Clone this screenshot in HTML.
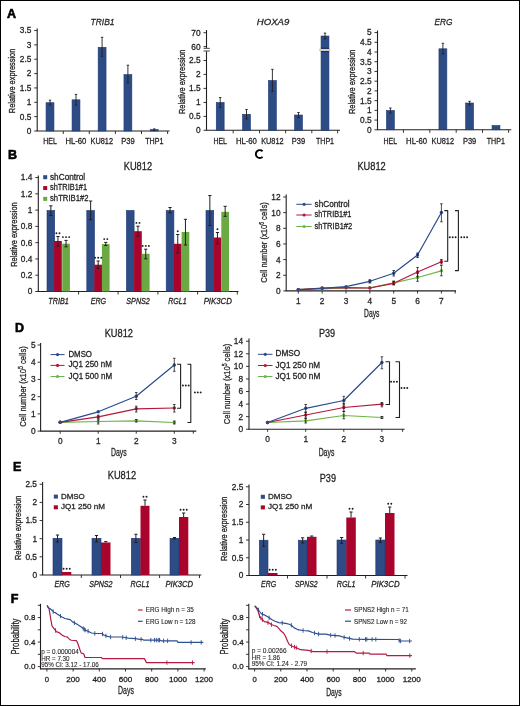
<!DOCTYPE html>
<html><head><meta charset="utf-8"><style>
html,body{margin:0;padding:0;background:#fff;}
body{width:520px;height:706px;overflow:hidden;}
#fig{position:absolute;left:0;top:0;width:518px;height:704px;border:1px solid #000;background:#fff;}
svg{position:absolute;left:-1px;top:-1px;will-change:transform;}
svg{fill:#231f20;} text{font-family:"Liberation Sans",sans-serif;stroke:#231f20;stroke-width:0.28px;}
</style></head><body><div id="fig">
<svg width="520" height="706" viewBox="0 0 520 706">
<text x="6.9" y="17.8" font-size="12.5" font-weight="bold" fill="#000" style="stroke:#000;stroke-width:0.6px">A</text>
<text x="8.1" y="158.8" font-size="12.5" font-weight="bold" fill="#000" style="stroke:#000;stroke-width:0.6px">B</text>
<path d="M262.59,151.26 A3.95,3.95 0 1 0 262.59,156.84" fill="none" stroke="#000" stroke-width="1.9"/>
<text x="15" y="332.3" font-size="12.5" font-weight="bold" fill="#000" style="stroke:#000;stroke-width:0.6px">D</text>
<text x="12.9" y="470.8" font-size="12.5" font-weight="bold" fill="#000" style="stroke:#000;stroke-width:0.6px">E</text>
<text x="10.8" y="603.1" font-size="12.5" font-weight="bold" fill="#000" style="stroke:#000;stroke-width:0.6px">F</text>
<line x1="37.2" y1="28.5" x2="37.2" y2="131" stroke="#231f20" stroke-width="1.1" />
<line x1="34.2" y1="131" x2="37.2" y2="131" stroke="#231f20" stroke-width="0.9" />
<text x="31.4" y="133.9" font-size="8.3" text-anchor="end" >0</text>
<line x1="34.2" y1="116.64" x2="37.2" y2="116.64" stroke="#231f20" stroke-width="0.9" />
<text x="31.4" y="119.55" font-size="8.3" text-anchor="end" >0.5</text>
<line x1="34.2" y1="102.29" x2="37.2" y2="102.29" stroke="#231f20" stroke-width="0.9" />
<text x="31.4" y="105.19" font-size="8.3" text-anchor="end" >1</text>
<line x1="34.2" y1="87.94" x2="37.2" y2="87.94" stroke="#231f20" stroke-width="0.9" />
<text x="31.4" y="90.84" font-size="8.3" text-anchor="end" >1.5</text>
<line x1="34.2" y1="73.58" x2="37.2" y2="73.58" stroke="#231f20" stroke-width="0.9" />
<text x="31.4" y="76.48" font-size="8.3" text-anchor="end" >2</text>
<line x1="34.2" y1="59.22" x2="37.2" y2="59.22" stroke="#231f20" stroke-width="0.9" />
<text x="31.4" y="62.12" font-size="8.3" text-anchor="end" >2.5</text>
<line x1="34.2" y1="44.87" x2="37.2" y2="44.87" stroke="#231f20" stroke-width="0.9" />
<text x="31.4" y="47.77" font-size="8.3" text-anchor="end" >3</text>
<line x1="34.2" y1="30.52" x2="37.2" y2="30.52" stroke="#231f20" stroke-width="0.9" />
<text x="31.4" y="33.41" font-size="8.3" text-anchor="end" >3.5</text>
<line x1="36.7" y1="131" x2="169.5" y2="131" stroke="#231f20" stroke-width="1.1" />
<line x1="63.3" y1="131" x2="63.3" y2="134" stroke="#231f20" stroke-width="0.9" />
<line x1="89.3" y1="131" x2="89.3" y2="134" stroke="#231f20" stroke-width="0.9" />
<line x1="115.4" y1="131" x2="115.4" y2="134" stroke="#231f20" stroke-width="0.9" />
<line x1="141.5" y1="131" x2="141.5" y2="134" stroke="#231f20" stroke-width="0.9" />
<line x1="167.6" y1="131" x2="167.6" y2="134" stroke="#231f20" stroke-width="0.9" />
<rect x="46.05" y="102.7" width="7.9" height="28.3" fill="#2d4b85" stroke="#1f3a72" stroke-width="0.6"/>
<line x1="50" y1="100.2" x2="50" y2="105" stroke="#231f20" stroke-width="0.9" />
<line x1="48.8" y1="100.2" x2="51.2" y2="100.2" stroke="#231f20" stroke-width="0.9" />
<line x1="48.8" y1="105" x2="51.2" y2="105" stroke="#231f20" stroke-width="0.9" />
<rect x="72.05" y="99.8" width="7.9" height="31.2" fill="#2d4b85" stroke="#1f3a72" stroke-width="0.6"/>
<line x1="76" y1="94.4" x2="76" y2="105" stroke="#231f20" stroke-width="0.9" />
<line x1="74.8" y1="94.4" x2="77.2" y2="94.4" stroke="#231f20" stroke-width="0.9" />
<line x1="74.8" y1="105" x2="77.2" y2="105" stroke="#231f20" stroke-width="0.9" />
<rect x="98.15" y="47.3" width="7.9" height="83.7" fill="#2d4b85" stroke="#1f3a72" stroke-width="0.6"/>
<line x1="102.1" y1="37.3" x2="102.1" y2="56.3" stroke="#231f20" stroke-width="0.9" />
<line x1="100.9" y1="37.3" x2="103.3" y2="37.3" stroke="#231f20" stroke-width="0.9" />
<line x1="100.9" y1="56.3" x2="103.3" y2="56.3" stroke="#231f20" stroke-width="0.9" />
<rect x="123.95" y="74.6" width="7.9" height="56.4" fill="#2d4b85" stroke="#1f3a72" stroke-width="0.6"/>
<line x1="127.9" y1="65.2" x2="127.9" y2="82.9" stroke="#231f20" stroke-width="0.9" />
<line x1="126.7" y1="65.2" x2="129.1" y2="65.2" stroke="#231f20" stroke-width="0.9" />
<line x1="126.7" y1="82.9" x2="129.1" y2="82.9" stroke="#231f20" stroke-width="0.9" />
<rect x="150.25" y="129.6" width="7.9" height="1.4" fill="#2d4b85" stroke="#1f3a72" stroke-width="0.6"/>
<line x1="154.2" y1="128.9" x2="154.2" y2="130.3" stroke="#231f20" stroke-width="0.9" />
<line x1="153" y1="128.9" x2="155.4" y2="128.9" stroke="#231f20" stroke-width="0.9" />
<line x1="153" y1="130.3" x2="155.4" y2="130.3" stroke="#231f20" stroke-width="0.9" />
<text x="50" y="144.2" font-size="8.4" text-anchor="middle" textLength="13.6" lengthAdjust="spacingAndGlyphs" >HEL</text>
<text x="75.9" y="144.2" font-size="8.4" text-anchor="middle" textLength="21" lengthAdjust="spacingAndGlyphs" >HL-60</text>
<text x="101.8" y="144.2" font-size="8.4" text-anchor="middle" textLength="22.5" lengthAdjust="spacingAndGlyphs" >KU812</text>
<text x="128" y="144.2" font-size="8.4" text-anchor="middle" textLength="13.4" lengthAdjust="spacingAndGlyphs" >P39</text>
<text x="154.3" y="144.2" font-size="8.4" text-anchor="middle" textLength="18.2" lengthAdjust="spacingAndGlyphs" >THP1</text>
<text x="102.5" y="25" font-size="9.9" text-anchor="middle" font-style="italic" textLength="24" lengthAdjust="spacingAndGlyphs" >TRIB1</text>
<text x="0" y="0" transform="translate(15.3,80.9) rotate(-90)" font-size="9.7" text-anchor="middle" style="stroke-width:0.32px" textLength="64.5" lengthAdjust="spacingAndGlyphs">Relative expression</text>
<line x1="206.5" y1="30" x2="206.5" y2="130.3" stroke="#231f20" stroke-width="1.1" />
<line x1="203.5" y1="130.3" x2="206.5" y2="130.3" stroke="#231f20" stroke-width="0.9" />
<text x="200.6" y="133.2" font-size="8.3" text-anchor="end" >0</text>
<line x1="203.5" y1="116.4" x2="206.5" y2="116.4" stroke="#231f20" stroke-width="0.9" />
<text x="200.6" y="119.3" font-size="8.3" text-anchor="end" >0.5</text>
<line x1="203.5" y1="102.5" x2="206.5" y2="102.5" stroke="#231f20" stroke-width="0.9" />
<text x="200.6" y="105.4" font-size="8.3" text-anchor="end" >1</text>
<line x1="203.5" y1="88.4" x2="206.5" y2="88.4" stroke="#231f20" stroke-width="0.9" />
<text x="200.6" y="91.3" font-size="8.3" text-anchor="end" >1.5</text>
<line x1="203.5" y1="74.4" x2="206.5" y2="74.4" stroke="#231f20" stroke-width="0.9" />
<text x="200.6" y="77.3" font-size="8.3" text-anchor="end" >2</text>
<line x1="203.5" y1="60.5" x2="206.5" y2="60.5" stroke="#231f20" stroke-width="0.9" />
<text x="200.6" y="63.4" font-size="8.3" text-anchor="end" >2.5</text>
<line x1="203.5" y1="46.6" x2="206.5" y2="46.6" stroke="#231f20" stroke-width="0.9" />
<text x="200.6" y="49.5" font-size="8.3" text-anchor="end" >60</text>
<line x1="203.5" y1="32.7" x2="206.5" y2="32.7" stroke="#231f20" stroke-width="0.9" />
<text x="200.6" y="35.6" font-size="8.3" text-anchor="end" >70</text>
<line x1="206" y1="130.3" x2="340" y2="130.3" stroke="#231f20" stroke-width="1.1" />
<line x1="233.2" y1="130.3" x2="233.2" y2="133.3" stroke="#231f20" stroke-width="0.9" />
<line x1="259.5" y1="130.3" x2="259.5" y2="133.3" stroke="#231f20" stroke-width="0.9" />
<line x1="285.6" y1="130.3" x2="285.6" y2="133.3" stroke="#231f20" stroke-width="0.9" />
<line x1="311.8" y1="130.3" x2="311.8" y2="133.3" stroke="#231f20" stroke-width="0.9" />
<line x1="337.6" y1="130.3" x2="337.6" y2="133.3" stroke="#231f20" stroke-width="0.9" />
<rect x="216.25" y="102.5" width="7.9" height="27.8" fill="#2d4b85" stroke="#1f3a72" stroke-width="0.6"/>
<line x1="220.2" y1="97.5" x2="220.2" y2="107.5" stroke="#231f20" stroke-width="0.9" />
<line x1="219" y1="97.5" x2="221.4" y2="97.5" stroke="#231f20" stroke-width="0.9" />
<line x1="219" y1="107.5" x2="221.4" y2="107.5" stroke="#231f20" stroke-width="0.9" />
<rect x="242.55" y="114.3" width="7.9" height="16" fill="#2d4b85" stroke="#1f3a72" stroke-width="0.6"/>
<line x1="246.5" y1="109.5" x2="246.5" y2="119" stroke="#231f20" stroke-width="0.9" />
<line x1="245.3" y1="109.5" x2="247.7" y2="109.5" stroke="#231f20" stroke-width="0.9" />
<line x1="245.3" y1="119" x2="247.7" y2="119" stroke="#231f20" stroke-width="0.9" />
<rect x="268.45" y="80.5" width="7.9" height="49.8" fill="#2d4b85" stroke="#1f3a72" stroke-width="0.6"/>
<line x1="272.4" y1="69.3" x2="272.4" y2="91.3" stroke="#231f20" stroke-width="0.9" />
<line x1="271.2" y1="69.3" x2="273.6" y2="69.3" stroke="#231f20" stroke-width="0.9" />
<line x1="271.2" y1="91.3" x2="273.6" y2="91.3" stroke="#231f20" stroke-width="0.9" />
<rect x="294.55" y="115" width="7.9" height="15.3" fill="#2d4b85" stroke="#1f3a72" stroke-width="0.6"/>
<line x1="298.5" y1="112.5" x2="298.5" y2="117.5" stroke="#231f20" stroke-width="0.9" />
<line x1="297.3" y1="112.5" x2="299.7" y2="112.5" stroke="#231f20" stroke-width="0.9" />
<line x1="297.3" y1="117.5" x2="299.7" y2="117.5" stroke="#231f20" stroke-width="0.9" />
<rect x="321.05" y="36" width="7.9" height="94.3" fill="#2d4b85" stroke="#1f3a72" stroke-width="0.6"/>
<line x1="325" y1="33.1" x2="325" y2="38.8" stroke="#231f20" stroke-width="0.9" />
<line x1="323.8" y1="33.1" x2="326.2" y2="33.1" stroke="#231f20" stroke-width="0.9" />
<line x1="323.8" y1="38.8" x2="326.2" y2="38.8" stroke="#231f20" stroke-width="0.9" />
<text x="220.2" y="144.2" font-size="8.4" text-anchor="middle" textLength="13.6" lengthAdjust="spacingAndGlyphs" >HEL</text>
<text x="246.4" y="144.2" font-size="8.4" text-anchor="middle" textLength="21" lengthAdjust="spacingAndGlyphs" >HL-60</text>
<text x="272.4" y="144.2" font-size="8.4" text-anchor="middle" textLength="22.5" lengthAdjust="spacingAndGlyphs" >KU812</text>
<text x="298.5" y="144.2" font-size="8.4" text-anchor="middle" textLength="13.4" lengthAdjust="spacingAndGlyphs" >P39</text>
<text x="325" y="144.2" font-size="8.4" text-anchor="middle" textLength="18.2" lengthAdjust="spacingAndGlyphs" >THP1</text>
<text x="273" y="25" font-size="9.9" text-anchor="middle" font-style="italic" textLength="32.5" lengthAdjust="spacingAndGlyphs" >HOXA9</text>
<text x="0" y="0" transform="translate(185.3,81.8) rotate(-90)" font-size="9.7" text-anchor="middle" style="stroke-width:0.32px" textLength="64.5" lengthAdjust="spacingAndGlyphs">Relative expression</text>
<rect x="203" y="48.6" width="7" height="2.4" fill="#ffffff"/>
<line x1="203.6" y1="48.4" x2="209.8" y2="48.4" stroke="#666666" stroke-width="1.2" />
<line x1="203.6" y1="51" x2="209.8" y2="51" stroke="#666666" stroke-width="1.2" />
<rect x="319.2" y="48.7" width="11" height="2.6" fill="#d2cec2"/>
<line x1="320.9" y1="48.3" x2="329.1" y2="48.3" stroke="#0d1f45" stroke-width="0.9" />
<line x1="320.9" y1="51.6" x2="329.1" y2="51.6" stroke="#0d1f45" stroke-width="0.9" />
<line x1="377.5" y1="30.5" x2="377.5" y2="129.8" stroke="#231f20" stroke-width="1.1" />
<line x1="374.5" y1="129.8" x2="377.5" y2="129.8" stroke="#231f20" stroke-width="0.9" />
<text x="371.6" y="132.7" font-size="8.3" text-anchor="end" >0</text>
<line x1="374.5" y1="120.08" x2="377.5" y2="120.08" stroke="#231f20" stroke-width="0.9" />
<text x="371.6" y="122.98" font-size="8.3" text-anchor="end" >0.5</text>
<line x1="374.5" y1="110.35" x2="377.5" y2="110.35" stroke="#231f20" stroke-width="0.9" />
<text x="371.6" y="113.25" font-size="8.3" text-anchor="end" >1</text>
<line x1="374.5" y1="100.63" x2="377.5" y2="100.63" stroke="#231f20" stroke-width="0.9" />
<text x="371.6" y="103.53" font-size="8.3" text-anchor="end" >1.5</text>
<line x1="374.5" y1="90.9" x2="377.5" y2="90.9" stroke="#231f20" stroke-width="0.9" />
<text x="371.6" y="93.8" font-size="8.3" text-anchor="end" >2</text>
<line x1="374.5" y1="81.18" x2="377.5" y2="81.18" stroke="#231f20" stroke-width="0.9" />
<text x="371.6" y="84.08" font-size="8.3" text-anchor="end" >2.5</text>
<line x1="374.5" y1="71.45" x2="377.5" y2="71.45" stroke="#231f20" stroke-width="0.9" />
<text x="371.6" y="74.35" font-size="8.3" text-anchor="end" >3</text>
<line x1="374.5" y1="61.73" x2="377.5" y2="61.73" stroke="#231f20" stroke-width="0.9" />
<text x="371.6" y="64.63" font-size="8.3" text-anchor="end" >3.5</text>
<line x1="374.5" y1="52" x2="377.5" y2="52" stroke="#231f20" stroke-width="0.9" />
<text x="371.6" y="54.9" font-size="8.3" text-anchor="end" >4</text>
<line x1="374.5" y1="42.28" x2="377.5" y2="42.28" stroke="#231f20" stroke-width="0.9" />
<text x="371.6" y="45.18" font-size="8.3" text-anchor="end" >4.5</text>
<line x1="374.5" y1="32.55" x2="377.5" y2="32.55" stroke="#231f20" stroke-width="0.9" />
<text x="371.6" y="35.45" font-size="8.3" text-anchor="end" >5</text>
<line x1="377" y1="129.8" x2="511.3" y2="129.8" stroke="#231f20" stroke-width="1.1" />
<line x1="403.4" y1="129.8" x2="403.4" y2="132.8" stroke="#231f20" stroke-width="0.9" />
<line x1="429.8" y1="129.8" x2="429.8" y2="132.8" stroke="#231f20" stroke-width="0.9" />
<line x1="456.2" y1="129.8" x2="456.2" y2="132.8" stroke="#231f20" stroke-width="0.9" />
<line x1="482.5" y1="129.8" x2="482.5" y2="132.8" stroke="#231f20" stroke-width="0.9" />
<line x1="508.6" y1="129.8" x2="508.6" y2="132.8" stroke="#231f20" stroke-width="0.9" />
<rect x="386.45" y="110.5" width="7.9" height="19.3" fill="#2d4b85" stroke="#1f3a72" stroke-width="0.6"/>
<line x1="390.4" y1="108" x2="390.4" y2="113" stroke="#231f20" stroke-width="0.9" />
<line x1="389.2" y1="108" x2="391.6" y2="108" stroke="#231f20" stroke-width="0.9" />
<line x1="389.2" y1="113" x2="391.6" y2="113" stroke="#231f20" stroke-width="0.9" />
<rect x="438.95" y="48.8" width="7.9" height="81" fill="#2d4b85" stroke="#1f3a72" stroke-width="0.6"/>
<line x1="442.9" y1="43.3" x2="442.9" y2="53.8" stroke="#231f20" stroke-width="0.9" />
<line x1="441.7" y1="43.3" x2="444.1" y2="43.3" stroke="#231f20" stroke-width="0.9" />
<line x1="441.7" y1="53.8" x2="444.1" y2="53.8" stroke="#231f20" stroke-width="0.9" />
<rect x="465.65" y="103" width="7.9" height="26.8" fill="#2d4b85" stroke="#1f3a72" stroke-width="0.6"/>
<line x1="469.6" y1="101.3" x2="469.6" y2="105" stroke="#231f20" stroke-width="0.9" />
<line x1="468.4" y1="101.3" x2="470.8" y2="101.3" stroke="#231f20" stroke-width="0.9" />
<line x1="468.4" y1="105" x2="470.8" y2="105" stroke="#231f20" stroke-width="0.9" />
<rect x="492.05" y="125.5" width="7.9" height="4.3" fill="#2d4b85" stroke="#1f3a72" stroke-width="0.6"/>
<text x="390.3" y="144.2" font-size="8.4" text-anchor="middle" textLength="13.6" lengthAdjust="spacingAndGlyphs" >HEL</text>
<text x="416.6" y="144.2" font-size="8.4" text-anchor="middle" textLength="21" lengthAdjust="spacingAndGlyphs" >HL-60</text>
<text x="442.8" y="144.2" font-size="8.4" text-anchor="middle" textLength="22.5" lengthAdjust="spacingAndGlyphs" >KU812</text>
<text x="469.6" y="144.2" font-size="8.4" text-anchor="middle" textLength="13.4" lengthAdjust="spacingAndGlyphs" >P39</text>
<text x="495.8" y="144.2" font-size="8.4" text-anchor="middle" textLength="18.2" lengthAdjust="spacingAndGlyphs" >THP1</text>
<text x="443.4" y="25" font-size="9.9" text-anchor="middle" font-style="italic" textLength="18" lengthAdjust="spacingAndGlyphs" >ERG</text>
<text x="0" y="0" transform="translate(355.3,81.8) rotate(-90)" font-size="9.7" text-anchor="middle" style="stroke-width:0.32px" textLength="64.5" lengthAdjust="spacingAndGlyphs">Relative expression</text>
<line x1="38.3" y1="175.5" x2="38.3" y2="291.5" stroke="#231f20" stroke-width="1.1" />
<line x1="35.3" y1="291.5" x2="38.3" y2="291.5" stroke="#231f20" stroke-width="0.9" />
<text x="32.4" y="294.4" font-size="8.3" text-anchor="end" >0</text>
<line x1="35.3" y1="275.22" x2="38.3" y2="275.22" stroke="#231f20" stroke-width="0.9" />
<text x="32.4" y="278.12" font-size="8.3" text-anchor="end" >0.2</text>
<line x1="35.3" y1="258.94" x2="38.3" y2="258.94" stroke="#231f20" stroke-width="0.9" />
<text x="32.4" y="261.84" font-size="8.3" text-anchor="end" >0.4</text>
<line x1="35.3" y1="242.66" x2="38.3" y2="242.66" stroke="#231f20" stroke-width="0.9" />
<text x="32.4" y="245.56" font-size="8.3" text-anchor="end" >0.6</text>
<line x1="35.3" y1="226.38" x2="38.3" y2="226.38" stroke="#231f20" stroke-width="0.9" />
<text x="32.4" y="229.28" font-size="8.3" text-anchor="end" >0.8</text>
<line x1="35.3" y1="210.1" x2="38.3" y2="210.1" stroke="#231f20" stroke-width="0.9" />
<text x="32.4" y="213" font-size="8.3" text-anchor="end" >1</text>
<line x1="35.3" y1="193.82" x2="38.3" y2="193.82" stroke="#231f20" stroke-width="0.9" />
<text x="32.4" y="196.72" font-size="8.3" text-anchor="end" >1.2</text>
<line x1="35.3" y1="177.54" x2="38.3" y2="177.54" stroke="#231f20" stroke-width="0.9" />
<text x="32.4" y="180.44" font-size="8.3" text-anchor="end" >1.4</text>
<line x1="37.8" y1="291.5" x2="238.5" y2="291.5" stroke="#231f20" stroke-width="1.1" />
<line x1="78.6" y1="291.5" x2="78.6" y2="294.5" stroke="#231f20" stroke-width="0.9" />
<line x1="118.1" y1="291.5" x2="118.1" y2="294.5" stroke="#231f20" stroke-width="0.9" />
<line x1="157.9" y1="291.5" x2="157.9" y2="294.5" stroke="#231f20" stroke-width="0.9" />
<line x1="197.6" y1="291.5" x2="197.6" y2="294.5" stroke="#231f20" stroke-width="0.9" />
<line x1="237.3" y1="291.5" x2="237.3" y2="294.5" stroke="#231f20" stroke-width="0.9" />
<rect x="47" y="210.5" width="7.7" height="81" fill="#2d4b85" stroke="#1f3a72" stroke-width="0.6"/>
<rect x="54.1" y="241" width="7.7" height="50.5" fill="#a9042c"/>
<rect x="62.2" y="243.7" width="7.7" height="47.8" fill="#6aa944"/>
<line x1="50.85" y1="205.8" x2="50.85" y2="215.5" stroke="#231f20" stroke-width="1" />
<line x1="49.25" y1="205.8" x2="52.45" y2="205.8" stroke="#231f20" stroke-width="1" />
<line x1="49.25" y1="215.5" x2="52.45" y2="215.5" stroke="#231f20" stroke-width="1" />
<line x1="57.95" y1="236.5" x2="57.95" y2="246.1" stroke="#231f20" stroke-width="1" />
<line x1="56.35" y1="236.5" x2="59.55" y2="236.5" stroke="#231f20" stroke-width="1" />
<line x1="56.35" y1="246.1" x2="59.55" y2="246.1" stroke="#231f20" stroke-width="1" />
<circle cx="56.4" cy="233.2" r="0.95" fill="#1a1a1a"/>
<circle cx="59.5" cy="233.2" r="0.95" fill="#1a1a1a"/>
<line x1="66.05" y1="240.4" x2="66.05" y2="246.8" stroke="#231f20" stroke-width="1" />
<line x1="64.45" y1="240.4" x2="67.65" y2="240.4" stroke="#231f20" stroke-width="1" />
<line x1="64.45" y1="246.8" x2="67.65" y2="246.8" stroke="#231f20" stroke-width="1" />
<circle cx="62.95" cy="237.1" r="0.95" fill="#1a1a1a"/>
<circle cx="66.05" cy="237.1" r="0.95" fill="#1a1a1a"/>
<circle cx="69.15" cy="237.1" r="0.95" fill="#1a1a1a"/>
<rect x="86.8" y="210.5" width="7.7" height="81" fill="#2d4b85" stroke="#1f3a72" stroke-width="0.6"/>
<rect x="94.3" y="264.7" width="7.7" height="26.8" fill="#a9042c"/>
<rect x="101.9" y="244.1" width="7.7" height="47.4" fill="#6aa944"/>
<line x1="90.65" y1="201" x2="90.65" y2="219.6" stroke="#231f20" stroke-width="1" />
<line x1="89.05" y1="201" x2="92.25" y2="201" stroke="#231f20" stroke-width="1" />
<line x1="89.05" y1="219.6" x2="92.25" y2="219.6" stroke="#231f20" stroke-width="1" />
<line x1="98.15" y1="261" x2="98.15" y2="268.4" stroke="#231f20" stroke-width="1" />
<line x1="96.55" y1="261" x2="99.75" y2="261" stroke="#231f20" stroke-width="1" />
<line x1="96.55" y1="268.4" x2="99.75" y2="268.4" stroke="#231f20" stroke-width="1" />
<circle cx="95.05" cy="257.7" r="0.95" fill="#1a1a1a"/>
<circle cx="98.15" cy="257.7" r="0.95" fill="#1a1a1a"/>
<circle cx="101.25" cy="257.7" r="0.95" fill="#1a1a1a"/>
<line x1="105.75" y1="242.4" x2="105.75" y2="245.5" stroke="#231f20" stroke-width="1" />
<line x1="104.15" y1="242.4" x2="107.35" y2="242.4" stroke="#231f20" stroke-width="1" />
<line x1="104.15" y1="245.5" x2="107.35" y2="245.5" stroke="#231f20" stroke-width="1" />
<circle cx="104.2" cy="239.1" r="0.95" fill="#1a1a1a"/>
<circle cx="107.3" cy="239.1" r="0.95" fill="#1a1a1a"/>
<rect x="126.4" y="210.5" width="7.7" height="81" fill="#2d4b85" stroke="#1f3a72" stroke-width="0.6"/>
<rect x="134.1" y="231.2" width="7.7" height="60.3" fill="#a9042c"/>
<rect x="141.9" y="253.8" width="7.7" height="37.7" fill="#6aa944"/>
<line x1="137.95" y1="226.2" x2="137.95" y2="236.2" stroke="#231f20" stroke-width="1" />
<line x1="136.35" y1="226.2" x2="139.55" y2="226.2" stroke="#231f20" stroke-width="1" />
<line x1="136.35" y1="236.2" x2="139.55" y2="236.2" stroke="#231f20" stroke-width="1" />
<circle cx="136.4" cy="222.9" r="0.95" fill="#1a1a1a"/>
<circle cx="139.5" cy="222.9" r="0.95" fill="#1a1a1a"/>
<line x1="145.75" y1="249.2" x2="145.75" y2="258.8" stroke="#231f20" stroke-width="1" />
<line x1="144.15" y1="249.2" x2="147.35" y2="249.2" stroke="#231f20" stroke-width="1" />
<line x1="144.15" y1="258.8" x2="147.35" y2="258.8" stroke="#231f20" stroke-width="1" />
<circle cx="142.65" cy="245.9" r="0.95" fill="#1a1a1a"/>
<circle cx="145.75" cy="245.9" r="0.95" fill="#1a1a1a"/>
<circle cx="148.85" cy="245.9" r="0.95" fill="#1a1a1a"/>
<rect x="166.2" y="210.5" width="7.7" height="81" fill="#2d4b85" stroke="#1f3a72" stroke-width="0.6"/>
<rect x="173.9" y="243.8" width="7.7" height="47.7" fill="#a9042c"/>
<rect x="181.6" y="232" width="7.7" height="59.5" fill="#6aa944"/>
<line x1="170.05" y1="207.5" x2="170.05" y2="212.8" stroke="#231f20" stroke-width="1" />
<line x1="168.45" y1="207.5" x2="171.65" y2="207.5" stroke="#231f20" stroke-width="1" />
<line x1="168.45" y1="212.8" x2="171.65" y2="212.8" stroke="#231f20" stroke-width="1" />
<line x1="177.75" y1="234.5" x2="177.75" y2="253" stroke="#231f20" stroke-width="1" />
<line x1="176.15" y1="234.5" x2="179.35" y2="234.5" stroke="#231f20" stroke-width="1" />
<line x1="176.15" y1="253" x2="179.35" y2="253" stroke="#231f20" stroke-width="1" />
<circle cx="177.75" cy="231.2" r="0.95" fill="#1a1a1a"/>
<line x1="185.45" y1="219.3" x2="185.45" y2="245" stroke="#231f20" stroke-width="1" />
<line x1="183.85" y1="219.3" x2="187.05" y2="219.3" stroke="#231f20" stroke-width="1" />
<line x1="183.85" y1="245" x2="187.05" y2="245" stroke="#231f20" stroke-width="1" />
<rect x="206" y="210.5" width="7.7" height="81" fill="#2d4b85" stroke="#1f3a72" stroke-width="0.6"/>
<rect x="213.6" y="237.5" width="7.7" height="54" fill="#a9042c"/>
<rect x="221.3" y="211.8" width="7.7" height="79.7" fill="#6aa944"/>
<line x1="209.85" y1="195.5" x2="209.85" y2="225.5" stroke="#231f20" stroke-width="1" />
<line x1="208.25" y1="195.5" x2="211.45" y2="195.5" stroke="#231f20" stroke-width="1" />
<line x1="208.25" y1="225.5" x2="211.45" y2="225.5" stroke="#231f20" stroke-width="1" />
<line x1="217.45" y1="232.5" x2="217.45" y2="243.8" stroke="#231f20" stroke-width="1" />
<line x1="215.85" y1="232.5" x2="219.05" y2="232.5" stroke="#231f20" stroke-width="1" />
<line x1="215.85" y1="243.8" x2="219.05" y2="243.8" stroke="#231f20" stroke-width="1" />
<circle cx="217.45" cy="229.2" r="0.95" fill="#1a1a1a"/>
<line x1="225.15" y1="206.3" x2="225.15" y2="216.3" stroke="#231f20" stroke-width="1" />
<line x1="223.55" y1="206.3" x2="226.75" y2="206.3" stroke="#231f20" stroke-width="1" />
<line x1="223.55" y1="216.3" x2="226.75" y2="216.3" stroke="#231f20" stroke-width="1" />
<text x="58.6" y="303.8" font-size="8.3" text-anchor="middle" font-style="italic" textLength="20.5" lengthAdjust="spacingAndGlyphs" >TRIB1</text>
<text x="98.4" y="303.8" font-size="8.3" text-anchor="middle" font-style="italic" textLength="15.5" lengthAdjust="spacingAndGlyphs" >ERG</text>
<text x="138.1" y="303.8" font-size="8.3" text-anchor="middle" font-style="italic" textLength="23.5" lengthAdjust="spacingAndGlyphs" >SPNS2</text>
<text x="177.5" y="303.8" font-size="8.3" text-anchor="middle" font-style="italic" textLength="18.5" lengthAdjust="spacingAndGlyphs" >RGL1</text>
<text x="217.8" y="303.8" font-size="8.3" text-anchor="middle" font-style="italic" textLength="28.3" lengthAdjust="spacingAndGlyphs" >PIK3CD</text>
<text x="137.9" y="170.1" font-size="10" text-anchor="middle" textLength="28.3" lengthAdjust="spacingAndGlyphs" >KU812</text>
<text x="0" y="0" transform="translate(16.7,234.6) rotate(-90)" font-size="9.7" text-anchor="middle" style="stroke-width:0.32px" textLength="64.5" lengthAdjust="spacingAndGlyphs">Relative expression</text>
<rect x="43.2" y="175.2" width="4" height="4" fill="#2d4b85"/>
<text x="50" y="179.5" font-size="8.4" textLength="35.2" lengthAdjust="spacingAndGlyphs" >shControl</text>
<rect x="43.2" y="186.05" width="4" height="4" fill="#a9042c"/>
<text x="50" y="190.35" font-size="8.4" textLength="37" lengthAdjust="spacingAndGlyphs" >shTRIB1#1</text>
<rect x="43.2" y="196.9" width="4" height="4" fill="#6aa944"/>
<text x="50" y="201.2" font-size="8.4" textLength="38.6" lengthAdjust="spacingAndGlyphs" >shTRIB1#2</text>
<line x1="286.2" y1="194.5" x2="286.2" y2="290.9" stroke="#231f20" stroke-width="1.1" />
<line x1="283.2" y1="290.9" x2="286.2" y2="290.9" stroke="#231f20" stroke-width="0.9" />
<text x="280.6" y="293.8" font-size="8.3" text-anchor="end" >0</text>
<line x1="283.2" y1="275.25" x2="286.2" y2="275.25" stroke="#231f20" stroke-width="0.9" />
<text x="280.6" y="278.15" font-size="8.3" text-anchor="end" >2</text>
<line x1="283.2" y1="259.6" x2="286.2" y2="259.6" stroke="#231f20" stroke-width="0.9" />
<text x="280.6" y="262.5" font-size="8.3" text-anchor="end" >4</text>
<line x1="283.2" y1="243.95" x2="286.2" y2="243.95" stroke="#231f20" stroke-width="0.9" />
<text x="280.6" y="246.85" font-size="8.3" text-anchor="end" >6</text>
<line x1="283.2" y1="228.3" x2="286.2" y2="228.3" stroke="#231f20" stroke-width="0.9" />
<text x="280.6" y="231.2" font-size="8.3" text-anchor="end" >8</text>
<line x1="283.2" y1="212.65" x2="286.2" y2="212.65" stroke="#231f20" stroke-width="0.9" />
<text x="280.6" y="215.55" font-size="8.3" text-anchor="end" >10</text>
<line x1="283.2" y1="197" x2="286.2" y2="197" stroke="#231f20" stroke-width="0.9" />
<text x="280.6" y="199.9" font-size="8.3" text-anchor="end" >12</text>
<line x1="285.7" y1="290.9" x2="456" y2="290.9" stroke="#231f20" stroke-width="1.1" />
<line x1="298.3" y1="290.9" x2="298.3" y2="293.5" stroke="#231f20" stroke-width="0.9" />
<line x1="322.15" y1="290.9" x2="322.15" y2="293.5" stroke="#231f20" stroke-width="0.9" />
<line x1="346" y1="290.9" x2="346" y2="293.5" stroke="#231f20" stroke-width="0.9" />
<line x1="369.85" y1="290.9" x2="369.85" y2="293.5" stroke="#231f20" stroke-width="0.9" />
<line x1="393.7" y1="290.9" x2="393.7" y2="293.5" stroke="#231f20" stroke-width="0.9" />
<line x1="417.55" y1="290.9" x2="417.55" y2="293.5" stroke="#231f20" stroke-width="0.9" />
<line x1="441.4" y1="290.9" x2="441.4" y2="293.5" stroke="#231f20" stroke-width="0.9" />
<line x1="455.2" y1="290.9" x2="455.2" y2="293.5" stroke="#231f20" stroke-width="0.9" />
<text x="298.3" y="303.7" font-size="8.3" text-anchor="middle" >1</text>
<text x="322.15" y="303.7" font-size="8.3" text-anchor="middle" >2</text>
<text x="346" y="303.7" font-size="8.3" text-anchor="middle" >3</text>
<text x="369.85" y="303.7" font-size="8.3" text-anchor="middle" >4</text>
<text x="393.7" y="303.7" font-size="8.3" text-anchor="middle" >5</text>
<text x="417.55" y="303.7" font-size="8.3" text-anchor="middle" >6</text>
<text x="441.4" y="303.7" font-size="8.3" text-anchor="middle" >7</text>
<text x="371.7" y="317.3" font-size="10" text-anchor="middle" textLength="15.3" lengthAdjust="spacingAndGlyphs" >Days</text>
<text x="371.6" y="170.1" font-size="10" text-anchor="middle" textLength="28.3" lengthAdjust="spacingAndGlyphs" >KU812</text>
<text transform="translate(267.1,242.4) rotate(-90)" font-size="9.6" text-anchor="middle" textLength="80.5" lengthAdjust="spacingAndGlyphs">Cell number (x10<tspan dy="-3" font-size="6.5">6</tspan><tspan dy="3"> cells)</tspan></text>
<polyline points="298.3,289.4 322.15,288.8 346,288 369.85,287.8 393.7,282.8 417.55,277.5 441.4,270.8" fill="none" stroke="#6db547" stroke-width="1.2" stroke-linejoin="round" />
<polyline points="298.3,289.6 322.15,288 346,287.6 369.85,288 393.7,283.3 417.55,272 441.4,261.8" fill="none" stroke="#b2173e" stroke-width="1.2" stroke-linejoin="round" />
<polyline points="298.3,289.8 322.15,288.3 346,286.7 369.85,281.3 393.7,273.3 417.55,255 441.4,212.5" fill="none" stroke="#2a4b8d" stroke-width="1.2" stroke-linejoin="round" />
<circle cx="298.3" cy="289.4" r="1.7" fill="#6db547"/>
<circle cx="322.15" cy="288.8" r="1.7" fill="#6db547"/>
<circle cx="346" cy="288" r="1.7" fill="#6db547"/>
<circle cx="369.85" cy="287.8" r="1.7" fill="#6db547"/>
<circle cx="393.7" cy="282.8" r="1.7" fill="#6db547"/>
<circle cx="417.55" cy="277.5" r="1.7" fill="#6db547"/>
<circle cx="441.4" cy="270.8" r="1.7" fill="#6db547"/>
<line x1="441.4" y1="265.5" x2="441.4" y2="275.8" stroke="#231f20" stroke-width="0.8" />
<line x1="440.1" y1="265.5" x2="442.7" y2="265.5" stroke="#231f20" stroke-width="0.8" />
<line x1="440.1" y1="275.8" x2="442.7" y2="275.8" stroke="#231f20" stroke-width="0.8" />
<line x1="417.55" y1="273.3" x2="417.55" y2="281.3" stroke="#231f20" stroke-width="0.8" />
<line x1="416.25" y1="273.3" x2="418.85" y2="273.3" stroke="#231f20" stroke-width="0.8" />
<line x1="416.25" y1="281.3" x2="418.85" y2="281.3" stroke="#231f20" stroke-width="0.8" />
<line x1="393.7" y1="281" x2="393.7" y2="284.5" stroke="#231f20" stroke-width="0.8" />
<line x1="392.4" y1="281" x2="395" y2="281" stroke="#231f20" stroke-width="0.8" />
<line x1="392.4" y1="284.5" x2="395" y2="284.5" stroke="#231f20" stroke-width="0.8" />
<circle cx="298.3" cy="289.6" r="1.7" fill="#b2173e"/>
<circle cx="322.15" cy="288" r="1.7" fill="#b2173e"/>
<circle cx="346" cy="287.6" r="1.7" fill="#b2173e"/>
<circle cx="369.85" cy="288" r="1.7" fill="#b2173e"/>
<circle cx="393.7" cy="283.3" r="1.7" fill="#b2173e"/>
<circle cx="417.55" cy="272" r="1.7" fill="#b2173e"/>
<circle cx="441.4" cy="261.8" r="1.7" fill="#b2173e"/>
<line x1="441.4" y1="259.5" x2="441.4" y2="264" stroke="#231f20" stroke-width="0.8" />
<line x1="440.1" y1="259.5" x2="442.7" y2="259.5" stroke="#231f20" stroke-width="0.8" />
<line x1="440.1" y1="264" x2="442.7" y2="264" stroke="#231f20" stroke-width="0.8" />
<line x1="417.55" y1="267.5" x2="417.55" y2="276.3" stroke="#231f20" stroke-width="0.8" />
<line x1="416.25" y1="267.5" x2="418.85" y2="267.5" stroke="#231f20" stroke-width="0.8" />
<line x1="416.25" y1="276.3" x2="418.85" y2="276.3" stroke="#231f20" stroke-width="0.8" />
<line x1="393.7" y1="281.5" x2="393.7" y2="285" stroke="#231f20" stroke-width="0.8" />
<line x1="392.4" y1="281.5" x2="395" y2="281.5" stroke="#231f20" stroke-width="0.8" />
<line x1="392.4" y1="285" x2="395" y2="285" stroke="#231f20" stroke-width="0.8" />
<circle cx="298.3" cy="289.8" r="1.7" fill="#2a4b8d"/>
<circle cx="322.15" cy="288.3" r="1.7" fill="#2a4b8d"/>
<circle cx="346" cy="286.7" r="1.7" fill="#2a4b8d"/>
<circle cx="369.85" cy="281.3" r="1.7" fill="#2a4b8d"/>
<circle cx="393.7" cy="273.3" r="1.7" fill="#2a4b8d"/>
<circle cx="417.55" cy="255" r="1.7" fill="#2a4b8d"/>
<circle cx="441.4" cy="212.5" r="1.7" fill="#2a4b8d"/>
<line x1="441.4" y1="203.8" x2="441.4" y2="221.8" stroke="#231f20" stroke-width="0.8" />
<line x1="440.1" y1="203.8" x2="442.7" y2="203.8" stroke="#231f20" stroke-width="0.8" />
<line x1="440.1" y1="221.8" x2="442.7" y2="221.8" stroke="#231f20" stroke-width="0.8" />
<line x1="417.55" y1="253" x2="417.55" y2="257.5" stroke="#231f20" stroke-width="0.8" />
<line x1="416.25" y1="253" x2="418.85" y2="253" stroke="#231f20" stroke-width="0.8" />
<line x1="416.25" y1="257.5" x2="418.85" y2="257.5" stroke="#231f20" stroke-width="0.8" />
<line x1="393.7" y1="270.5" x2="393.7" y2="276" stroke="#231f20" stroke-width="0.8" />
<line x1="392.4" y1="270.5" x2="395" y2="270.5" stroke="#231f20" stroke-width="0.8" />
<line x1="392.4" y1="276" x2="395" y2="276" stroke="#231f20" stroke-width="0.8" />
<line x1="369.85" y1="279.8" x2="369.85" y2="283" stroke="#231f20" stroke-width="0.8" />
<line x1="368.55" y1="279.8" x2="371.15" y2="279.8" stroke="#231f20" stroke-width="0.8" />
<line x1="368.55" y1="283" x2="371.15" y2="283" stroke="#231f20" stroke-width="0.8" />
<polyline points="444.3,210.6 447.7,210.6 447.7,261.3 444.3,261.3" fill="none" stroke="#231f20" stroke-width="1.1" stroke-linejoin="round" stroke-linejoin="miter"/>
<polyline points="455,210.6 458.4,210.6 458.4,270.6 455,270.6" fill="none" stroke="#231f20" stroke-width="1.1" stroke-linejoin="round" stroke-linejoin="miter"/>
<circle cx="449.8" cy="237.3" r="0.95" fill="#1a1a1a"/>
<circle cx="452.7" cy="237.3" r="0.95" fill="#1a1a1a"/>
<circle cx="455.6" cy="237.3" r="0.95" fill="#1a1a1a"/>
<circle cx="461.3" cy="237.3" r="0.95" fill="#1a1a1a"/>
<circle cx="464.2" cy="237.3" r="0.95" fill="#1a1a1a"/>
<circle cx="467.1" cy="237.3" r="0.95" fill="#1a1a1a"/>
<line x1="296.3" y1="204.3" x2="311.6" y2="204.3" stroke="#2a4b8d" stroke-width="1" />
<circle cx="304.1" cy="204.3" r="1.6" fill="#2a4b8d"/>
<text x="314.6" y="206.6" font-size="8.4" textLength="35" lengthAdjust="spacingAndGlyphs" >shControl</text>
<line x1="296.3" y1="215" x2="311.6" y2="215" stroke="#b2173e" stroke-width="1" />
<circle cx="304.1" cy="215" r="1.6" fill="#b2173e"/>
<text x="314.6" y="217.3" font-size="8.4" textLength="36.8" lengthAdjust="spacingAndGlyphs" >shTRIB1#1</text>
<line x1="296.3" y1="226.5" x2="311.6" y2="226.5" stroke="#6db547" stroke-width="1" />
<circle cx="304.1" cy="226.5" r="1.6" fill="#6db547"/>
<text x="314.6" y="228.8" font-size="8.4" textLength="37.6" lengthAdjust="spacingAndGlyphs" >shTRIB1#2</text>
<line x1="40.6" y1="343" x2="40.6" y2="431.1" stroke="#231f20" stroke-width="1.1" />
<line x1="37.6" y1="431.1" x2="40.6" y2="431.1" stroke="#231f20" stroke-width="0.9" />
<text x="35.6" y="434" font-size="8.3" text-anchor="end" >0</text>
<line x1="37.6" y1="413.88" x2="40.6" y2="413.88" stroke="#231f20" stroke-width="0.9" />
<text x="35.6" y="416.78" font-size="8.3" text-anchor="end" >1</text>
<line x1="37.6" y1="396.66" x2="40.6" y2="396.66" stroke="#231f20" stroke-width="0.9" />
<text x="35.6" y="399.56" font-size="8.3" text-anchor="end" >2</text>
<line x1="37.6" y1="379.44" x2="40.6" y2="379.44" stroke="#231f20" stroke-width="0.9" />
<text x="35.6" y="382.34" font-size="8.3" text-anchor="end" >3</text>
<line x1="37.6" y1="362.22" x2="40.6" y2="362.22" stroke="#231f20" stroke-width="0.9" />
<text x="35.6" y="365.12" font-size="8.3" text-anchor="end" >4</text>
<line x1="37.6" y1="345" x2="40.6" y2="345" stroke="#231f20" stroke-width="0.9" />
<text x="35.6" y="347.9" font-size="8.3" text-anchor="end" >5</text>
<line x1="40.1" y1="431.1" x2="196.3" y2="431.1" stroke="#231f20" stroke-width="1.1" />
<line x1="60.2" y1="431.1" x2="60.2" y2="433.7" stroke="#231f20" stroke-width="0.9" />
<line x1="98.23" y1="431.1" x2="98.23" y2="433.7" stroke="#231f20" stroke-width="0.9" />
<line x1="136.26" y1="431.1" x2="136.26" y2="433.7" stroke="#231f20" stroke-width="0.9" />
<line x1="174.29" y1="431.1" x2="174.29" y2="433.7" stroke="#231f20" stroke-width="0.9" />
<line x1="193.3" y1="431.1" x2="193.3" y2="433.7" stroke="#231f20" stroke-width="0.9" />
<text x="60.2" y="443.8" font-size="8.3" text-anchor="middle" >0</text>
<text x="98.23" y="443.8" font-size="8.3" text-anchor="middle" >1</text>
<text x="136.26" y="443.8" font-size="8.3" text-anchor="middle" >2</text>
<text x="174.29" y="443.8" font-size="8.3" text-anchor="middle" >3</text>
<text x="118.8" y="455.6" font-size="10" text-anchor="middle" textLength="15.7" lengthAdjust="spacingAndGlyphs" >Days</text>
<text x="118.8" y="337.4" font-size="10" text-anchor="middle" textLength="28.3" lengthAdjust="spacingAndGlyphs" >KU812</text>
<text transform="translate(25.7,386.5) rotate(-90)" font-size="9.6" text-anchor="middle" textLength="80.5" lengthAdjust="spacingAndGlyphs">Cell number (x10<tspan dy="-3" font-size="6.5">5</tspan><tspan dy="3"> cells)</tspan></text>
<polyline points="60.2,422.3 98.23,421.5 136.26,420.8 174.29,422.5" fill="none" stroke="#6db547" stroke-width="1.2" stroke-linejoin="round" />
<polyline points="60.2,422.3 98.23,416.9 136.26,408.8 174.29,408" fill="none" stroke="#b2173e" stroke-width="1.2" stroke-linejoin="round" />
<polyline points="60.2,422.3 98.23,411.8 136.26,396.3 174.29,365" fill="none" stroke="#2a4b8d" stroke-width="1.2" stroke-linejoin="round" />
<circle cx="60.2" cy="422.3" r="1.7" fill="#6db547"/>
<circle cx="98.23" cy="421.5" r="1.7" fill="#6db547"/>
<circle cx="136.26" cy="420.8" r="1.7" fill="#6db547"/>
<circle cx="174.29" cy="422.5" r="1.7" fill="#6db547"/>
<line x1="98.23" y1="419.8" x2="98.23" y2="424" stroke="#231f20" stroke-width="0.8" />
<line x1="96.93" y1="419.8" x2="99.53" y2="419.8" stroke="#231f20" stroke-width="0.8" />
<line x1="96.93" y1="424" x2="99.53" y2="424" stroke="#231f20" stroke-width="0.8" />
<line x1="136.26" y1="419.5" x2="136.26" y2="422" stroke="#231f20" stroke-width="0.8" />
<line x1="134.96" y1="419.5" x2="137.56" y2="419.5" stroke="#231f20" stroke-width="0.8" />
<line x1="134.96" y1="422" x2="137.56" y2="422" stroke="#231f20" stroke-width="0.8" />
<line x1="174.29" y1="421" x2="174.29" y2="424" stroke="#231f20" stroke-width="0.8" />
<line x1="172.99" y1="421" x2="175.59" y2="421" stroke="#231f20" stroke-width="0.8" />
<line x1="172.99" y1="424" x2="175.59" y2="424" stroke="#231f20" stroke-width="0.8" />
<circle cx="60.2" cy="422.3" r="1.7" fill="#b2173e"/>
<circle cx="98.23" cy="416.9" r="1.7" fill="#b2173e"/>
<circle cx="136.26" cy="408.8" r="1.7" fill="#b2173e"/>
<circle cx="174.29" cy="408" r="1.7" fill="#b2173e"/>
<line x1="98.23" y1="415.2" x2="98.23" y2="418.8" stroke="#231f20" stroke-width="0.8" />
<line x1="96.93" y1="415.2" x2="99.53" y2="415.2" stroke="#231f20" stroke-width="0.8" />
<line x1="96.93" y1="418.8" x2="99.53" y2="418.8" stroke="#231f20" stroke-width="0.8" />
<line x1="136.26" y1="406.2" x2="136.26" y2="412" stroke="#231f20" stroke-width="0.8" />
<line x1="134.96" y1="406.2" x2="137.56" y2="406.2" stroke="#231f20" stroke-width="0.8" />
<line x1="134.96" y1="412" x2="137.56" y2="412" stroke="#231f20" stroke-width="0.8" />
<line x1="174.29" y1="404.5" x2="174.29" y2="412" stroke="#231f20" stroke-width="0.8" />
<line x1="172.99" y1="404.5" x2="175.59" y2="404.5" stroke="#231f20" stroke-width="0.8" />
<line x1="172.99" y1="412" x2="175.59" y2="412" stroke="#231f20" stroke-width="0.8" />
<circle cx="60.2" cy="422.3" r="1.7" fill="#2a4b8d"/>
<circle cx="98.23" cy="411.8" r="1.7" fill="#2a4b8d"/>
<circle cx="136.26" cy="396.3" r="1.7" fill="#2a4b8d"/>
<circle cx="174.29" cy="365" r="1.7" fill="#2a4b8d"/>
<line x1="136.26" y1="392.5" x2="136.26" y2="399.5" stroke="#231f20" stroke-width="0.8" />
<line x1="134.96" y1="392.5" x2="137.56" y2="392.5" stroke="#231f20" stroke-width="0.8" />
<line x1="134.96" y1="399.5" x2="137.56" y2="399.5" stroke="#231f20" stroke-width="0.8" />
<line x1="174.29" y1="358.3" x2="174.29" y2="371.3" stroke="#231f20" stroke-width="0.8" />
<line x1="172.99" y1="358.3" x2="175.59" y2="358.3" stroke="#231f20" stroke-width="0.8" />
<line x1="172.99" y1="371.3" x2="175.59" y2="371.3" stroke="#231f20" stroke-width="0.8" />
<polyline points="177,364.3 180.6,364.3 180.6,408.3 177,408.3" fill="none" stroke="#231f20" stroke-width="1.1" stroke-linejoin="round" stroke-linejoin="miter"/>
<polyline points="187.4,364.3 190.8,364.3 190.8,422.5 187.4,422.5" fill="none" stroke="#231f20" stroke-width="1.1" stroke-linejoin="round" stroke-linejoin="miter"/>
<circle cx="182.9" cy="385.5" r="0.95" fill="#1a1a1a"/>
<circle cx="185.8" cy="385.5" r="0.95" fill="#1a1a1a"/>
<circle cx="188.7" cy="385.5" r="0.95" fill="#1a1a1a"/>
<circle cx="194.9" cy="392.4" r="0.95" fill="#1a1a1a"/>
<circle cx="197.8" cy="392.4" r="0.95" fill="#1a1a1a"/>
<circle cx="200.7" cy="392.4" r="0.95" fill="#1a1a1a"/>
<line x1="50.5" y1="354.6" x2="64.6" y2="354.6" stroke="#2a4b8d" stroke-width="1" />
<circle cx="57.55" cy="354.6" r="1.6" fill="#2a4b8d"/>
<text x="68.4" y="356.6" font-size="8.4" textLength="23.6" lengthAdjust="spacingAndGlyphs" >DMSO</text>
<line x1="50.5" y1="365.4" x2="64.6" y2="365.4" stroke="#b2173e" stroke-width="1" />
<circle cx="57.55" cy="365.4" r="1.6" fill="#b2173e"/>
<text x="68.4" y="367.4" font-size="8.4" textLength="43.4" lengthAdjust="spacingAndGlyphs" >JQ1 250 nM</text>
<line x1="50.5" y1="376.5" x2="64.6" y2="376.5" stroke="#6db547" stroke-width="1" />
<circle cx="57.55" cy="376.5" r="1.6" fill="#6db547"/>
<text x="68.4" y="378.5" font-size="8.4" textLength="43.7" lengthAdjust="spacingAndGlyphs" >JQ1 500 nM</text>
<line x1="249" y1="338.5" x2="249" y2="429.2" stroke="#231f20" stroke-width="1.1" />
<line x1="246" y1="429.2" x2="249" y2="429.2" stroke="#231f20" stroke-width="0.9" />
<text x="243" y="432.1" font-size="8.3" text-anchor="end" >0</text>
<line x1="246" y1="416.63" x2="249" y2="416.63" stroke="#231f20" stroke-width="0.9" />
<text x="243" y="419.53" font-size="8.3" text-anchor="end" >2</text>
<line x1="246" y1="404.06" x2="249" y2="404.06" stroke="#231f20" stroke-width="0.9" />
<text x="243" y="406.96" font-size="8.3" text-anchor="end" >4</text>
<line x1="246" y1="391.5" x2="249" y2="391.5" stroke="#231f20" stroke-width="0.9" />
<text x="243" y="394.4" font-size="8.3" text-anchor="end" >6</text>
<line x1="246" y1="378.93" x2="249" y2="378.93" stroke="#231f20" stroke-width="0.9" />
<text x="243" y="381.83" font-size="8.3" text-anchor="end" >8</text>
<line x1="246" y1="366.36" x2="249" y2="366.36" stroke="#231f20" stroke-width="0.9" />
<text x="243" y="369.26" font-size="8.3" text-anchor="end" >10</text>
<line x1="246" y1="353.79" x2="249" y2="353.79" stroke="#231f20" stroke-width="0.9" />
<text x="243" y="356.69" font-size="8.3" text-anchor="end" >12</text>
<line x1="246" y1="341.22" x2="249" y2="341.22" stroke="#231f20" stroke-width="0.9" />
<text x="243" y="344.12" font-size="8.3" text-anchor="end" >14</text>
<line x1="248.5" y1="429.2" x2="404.6" y2="429.2" stroke="#231f20" stroke-width="1.1" />
<line x1="267.6" y1="429.2" x2="267.6" y2="431.8" stroke="#231f20" stroke-width="0.9" />
<line x1="305.7" y1="429.2" x2="305.7" y2="431.8" stroke="#231f20" stroke-width="0.9" />
<line x1="343.8" y1="429.2" x2="343.8" y2="431.8" stroke="#231f20" stroke-width="0.9" />
<line x1="381.9" y1="429.2" x2="381.9" y2="431.8" stroke="#231f20" stroke-width="0.9" />
<line x1="402.6" y1="429.2" x2="402.6" y2="431.8" stroke="#231f20" stroke-width="0.9" />
<text x="267.6" y="441.9" font-size="8.3" text-anchor="middle" >0</text>
<text x="305.7" y="441.9" font-size="8.3" text-anchor="middle" >1</text>
<text x="343.8" y="441.9" font-size="8.3" text-anchor="middle" >2</text>
<text x="381.9" y="441.9" font-size="8.3" text-anchor="middle" >3</text>
<text x="326.5" y="455.6" font-size="10" text-anchor="middle" textLength="15.7" lengthAdjust="spacingAndGlyphs" >Days</text>
<text x="327" y="337.4" font-size="10" text-anchor="middle" textLength="16.2" lengthAdjust="spacingAndGlyphs" >P39</text>
<text transform="translate(229.7,383.9) rotate(-90)" font-size="9.6" text-anchor="middle" textLength="80.5" lengthAdjust="spacingAndGlyphs">Cell number (x10<tspan dy="-3" font-size="6.5">5</tspan><tspan dy="3"> cells)</tspan></text>
<polyline points="267.6,422.5 305.7,420.8 343.8,415.5 381.9,417.5" fill="none" stroke="#6db547" stroke-width="1.2" stroke-linejoin="round" />
<polyline points="267.6,422.5 305.7,415 343.8,407.5 381.9,404.2" fill="none" stroke="#b2173e" stroke-width="1.2" stroke-linejoin="round" />
<polyline points="267.6,422.5 305.7,408.3 343.8,400.5 381.9,362.5" fill="none" stroke="#2a4b8d" stroke-width="1.2" stroke-linejoin="round" />
<circle cx="267.6" cy="422.5" r="1.7" fill="#6db547"/>
<circle cx="305.7" cy="420.8" r="1.7" fill="#6db547"/>
<circle cx="343.8" cy="415.5" r="1.7" fill="#6db547"/>
<circle cx="381.9" cy="417.5" r="1.7" fill="#6db547"/>
<line x1="305.7" y1="418.5" x2="305.7" y2="423" stroke="#231f20" stroke-width="0.8" />
<line x1="304.4" y1="418.5" x2="307" y2="418.5" stroke="#231f20" stroke-width="0.8" />
<line x1="304.4" y1="423" x2="307" y2="423" stroke="#231f20" stroke-width="0.8" />
<line x1="343.8" y1="411.3" x2="343.8" y2="418.8" stroke="#231f20" stroke-width="0.8" />
<line x1="342.5" y1="411.3" x2="345.1" y2="411.3" stroke="#231f20" stroke-width="0.8" />
<line x1="342.5" y1="418.8" x2="345.1" y2="418.8" stroke="#231f20" stroke-width="0.8" />
<line x1="381.9" y1="416.5" x2="381.9" y2="418.5" stroke="#231f20" stroke-width="0.8" />
<line x1="380.6" y1="416.5" x2="383.2" y2="416.5" stroke="#231f20" stroke-width="0.8" />
<line x1="380.6" y1="418.5" x2="383.2" y2="418.5" stroke="#231f20" stroke-width="0.8" />
<circle cx="267.6" cy="422.5" r="1.7" fill="#b2173e"/>
<circle cx="305.7" cy="415" r="1.7" fill="#b2173e"/>
<circle cx="343.8" cy="407.5" r="1.7" fill="#b2173e"/>
<circle cx="381.9" cy="404.2" r="1.7" fill="#b2173e"/>
<line x1="305.7" y1="412" x2="305.7" y2="418" stroke="#231f20" stroke-width="0.8" />
<line x1="304.4" y1="412" x2="307" y2="412" stroke="#231f20" stroke-width="0.8" />
<line x1="304.4" y1="418" x2="307" y2="418" stroke="#231f20" stroke-width="0.8" />
<line x1="343.8" y1="403.5" x2="343.8" y2="411.5" stroke="#231f20" stroke-width="0.8" />
<line x1="342.5" y1="403.5" x2="345.1" y2="403.5" stroke="#231f20" stroke-width="0.8" />
<line x1="342.5" y1="411.5" x2="345.1" y2="411.5" stroke="#231f20" stroke-width="0.8" />
<line x1="381.9" y1="402.5" x2="381.9" y2="406.8" stroke="#231f20" stroke-width="0.8" />
<line x1="380.6" y1="402.5" x2="383.2" y2="402.5" stroke="#231f20" stroke-width="0.8" />
<line x1="380.6" y1="406.8" x2="383.2" y2="406.8" stroke="#231f20" stroke-width="0.8" />
<circle cx="267.6" cy="422.5" r="1.7" fill="#2a4b8d"/>
<circle cx="305.7" cy="408.3" r="1.7" fill="#2a4b8d"/>
<circle cx="343.8" cy="400.5" r="1.7" fill="#2a4b8d"/>
<circle cx="381.9" cy="362.5" r="1.7" fill="#2a4b8d"/>
<line x1="305.7" y1="404.5" x2="305.7" y2="412.5" stroke="#231f20" stroke-width="0.8" />
<line x1="304.4" y1="404.5" x2="307" y2="404.5" stroke="#231f20" stroke-width="0.8" />
<line x1="304.4" y1="412.5" x2="307" y2="412.5" stroke="#231f20" stroke-width="0.8" />
<line x1="343.8" y1="396.3" x2="343.8" y2="405" stroke="#231f20" stroke-width="0.8" />
<line x1="342.5" y1="396.3" x2="345.1" y2="396.3" stroke="#231f20" stroke-width="0.8" />
<line x1="342.5" y1="405" x2="345.1" y2="405" stroke="#231f20" stroke-width="0.8" />
<line x1="381.9" y1="356.8" x2="381.9" y2="368.8" stroke="#231f20" stroke-width="0.8" />
<line x1="380.6" y1="356.8" x2="383.2" y2="356.8" stroke="#231f20" stroke-width="0.8" />
<line x1="380.6" y1="368.8" x2="383.2" y2="368.8" stroke="#231f20" stroke-width="0.8" />
<polyline points="385.5,361.8 389.5,361.8 389.5,404.5 385.5,404.5" fill="none" stroke="#231f20" stroke-width="1.1" stroke-linejoin="round" stroke-linejoin="miter"/>
<polyline points="395.5,361.8 399.5,361.8 399.5,417.5 395.5,417.5" fill="none" stroke="#231f20" stroke-width="1.1" stroke-linejoin="round" stroke-linejoin="miter"/>
<circle cx="391.1" cy="381.8" r="0.95" fill="#1a1a1a"/>
<circle cx="394" cy="381.8" r="0.95" fill="#1a1a1a"/>
<circle cx="396.9" cy="381.8" r="0.95" fill="#1a1a1a"/>
<circle cx="401.5" cy="388" r="0.95" fill="#1a1a1a"/>
<circle cx="404.4" cy="388" r="0.95" fill="#1a1a1a"/>
<circle cx="407.3" cy="388" r="0.95" fill="#1a1a1a"/>
<line x1="258" y1="354.3" x2="272.5" y2="354.3" stroke="#2a4b8d" stroke-width="1" />
<circle cx="265.25" cy="354.3" r="1.6" fill="#2a4b8d"/>
<text x="275.5" y="356.3" font-size="8.4" textLength="24.8" lengthAdjust="spacingAndGlyphs" >DMSO</text>
<line x1="258" y1="365.5" x2="272.5" y2="365.5" stroke="#b2173e" stroke-width="1" />
<circle cx="265.25" cy="365.5" r="1.6" fill="#b2173e"/>
<text x="275.5" y="367.5" font-size="8.4" textLength="44.6" lengthAdjust="spacingAndGlyphs" >JQ1 250 nM</text>
<line x1="258" y1="376.5" x2="272.5" y2="376.5" stroke="#6db547" stroke-width="1" />
<circle cx="265.25" cy="376.5" r="1.6" fill="#6db547"/>
<text x="275.5" y="378.5" font-size="8.4" textLength="44.8" lengthAdjust="spacingAndGlyphs" >JQ1 500 nM</text>
<line x1="42.6" y1="482" x2="42.6" y2="575" stroke="#231f20" stroke-width="1.1" />
<line x1="39.6" y1="575" x2="42.6" y2="575" stroke="#231f20" stroke-width="0.9" />
<text x="37" y="577.9" font-size="8.3" text-anchor="end" >0</text>
<line x1="39.6" y1="556.85" x2="42.6" y2="556.85" stroke="#231f20" stroke-width="0.9" />
<text x="37" y="559.75" font-size="8.3" text-anchor="end" >0.5</text>
<line x1="39.6" y1="538.7" x2="42.6" y2="538.7" stroke="#231f20" stroke-width="0.9" />
<text x="37" y="541.6" font-size="8.3" text-anchor="end" >1</text>
<line x1="39.6" y1="520.55" x2="42.6" y2="520.55" stroke="#231f20" stroke-width="0.9" />
<text x="37" y="523.45" font-size="8.3" text-anchor="end" >1.5</text>
<line x1="39.6" y1="502.4" x2="42.6" y2="502.4" stroke="#231f20" stroke-width="0.9" />
<text x="37" y="505.3" font-size="8.3" text-anchor="end" >2</text>
<line x1="39.6" y1="484.25" x2="42.6" y2="484.25" stroke="#231f20" stroke-width="0.9" />
<text x="37" y="487.15" font-size="8.3" text-anchor="end" >2.5</text>
<line x1="42.1" y1="575" x2="201.3" y2="575" stroke="#231f20" stroke-width="1.1" />
<line x1="81.3" y1="575" x2="81.3" y2="578" stroke="#231f20" stroke-width="0.9" />
<line x1="120.5" y1="575" x2="120.5" y2="578" stroke="#231f20" stroke-width="0.9" />
<line x1="159.6" y1="575" x2="159.6" y2="578" stroke="#231f20" stroke-width="0.9" />
<line x1="199.5" y1="575" x2="199.5" y2="578" stroke="#231f20" stroke-width="0.9" />
<rect x="53" y="538.3" width="9" height="36.7" fill="#2d4b85" stroke="#1f3a72" stroke-width="0.6"/>
<rect x="62" y="572" width="9.3" height="3" fill="#a9042c"/>
<line x1="57.5" y1="535" x2="57.5" y2="542" stroke="#231f20" stroke-width="1" />
<line x1="55.9" y1="535" x2="59.1" y2="535" stroke="#231f20" stroke-width="1" />
<line x1="55.9" y1="542" x2="59.1" y2="542" stroke="#231f20" stroke-width="1" />
<circle cx="63.55" cy="568.7" r="0.95" fill="#1a1a1a"/>
<circle cx="66.65" cy="568.7" r="0.95" fill="#1a1a1a"/>
<circle cx="69.75" cy="568.7" r="0.95" fill="#1a1a1a"/>
<rect x="92" y="538.3" width="9" height="36.7" fill="#2d4b85" stroke="#1f3a72" stroke-width="0.6"/>
<rect x="101" y="542.5" width="9.5" height="32.5" fill="#a9042c"/>
<line x1="96.5" y1="535.5" x2="96.5" y2="542" stroke="#231f20" stroke-width="1" />
<line x1="94.9" y1="535.5" x2="98.1" y2="535.5" stroke="#231f20" stroke-width="1" />
<line x1="94.9" y1="542" x2="98.1" y2="542" stroke="#231f20" stroke-width="1" />
<line x1="105.75" y1="541.6" x2="105.75" y2="542.5" stroke="#231f20" stroke-width="1" />
<line x1="104.15" y1="541.6" x2="107.35" y2="541.6" stroke="#231f20" stroke-width="1" />
<rect x="131.3" y="538.3" width="9.2" height="36.7" fill="#2d4b85" stroke="#1f3a72" stroke-width="0.6"/>
<rect x="140.5" y="505.8" width="9" height="69.2" fill="#a9042c"/>
<line x1="135.9" y1="534.3" x2="135.9" y2="542.5" stroke="#231f20" stroke-width="1" />
<line x1="134.3" y1="534.3" x2="137.5" y2="534.3" stroke="#231f20" stroke-width="1" />
<line x1="134.3" y1="542.5" x2="137.5" y2="542.5" stroke="#231f20" stroke-width="1" />
<line x1="145" y1="500" x2="145" y2="505.8" stroke="#231f20" stroke-width="1" />
<line x1="143.4" y1="500" x2="146.6" y2="500" stroke="#231f20" stroke-width="1" />
<circle cx="143.45" cy="496.7" r="0.95" fill="#1a1a1a"/>
<circle cx="146.55" cy="496.7" r="0.95" fill="#1a1a1a"/>
<rect x="170" y="538.3" width="9" height="36.7" fill="#2d4b85" stroke="#1f3a72" stroke-width="0.6"/>
<rect x="179" y="517" width="9.3" height="58" fill="#a9042c"/>
<line x1="174.5" y1="537.5" x2="174.5" y2="539" stroke="#231f20" stroke-width="1" />
<line x1="172.9" y1="537.5" x2="176.1" y2="537.5" stroke="#231f20" stroke-width="1" />
<line x1="172.9" y1="539" x2="176.1" y2="539" stroke="#231f20" stroke-width="1" />
<line x1="183.65" y1="513" x2="183.65" y2="517" stroke="#231f20" stroke-width="1" />
<line x1="182.05" y1="513" x2="185.25" y2="513" stroke="#231f20" stroke-width="1" />
<circle cx="180.55" cy="509.7" r="0.95" fill="#1a1a1a"/>
<circle cx="183.65" cy="509.7" r="0.95" fill="#1a1a1a"/>
<circle cx="186.75" cy="509.7" r="0.95" fill="#1a1a1a"/>
<text x="62.2" y="587.2" font-size="8.3" text-anchor="middle" font-style="italic" textLength="15.5" lengthAdjust="spacingAndGlyphs" >ERG</text>
<text x="100.9" y="587.2" font-size="8.3" text-anchor="middle" font-style="italic" textLength="23.3" lengthAdjust="spacingAndGlyphs" >SPNS2</text>
<text x="140" y="587.2" font-size="8.3" text-anchor="middle" font-style="italic" textLength="18.8" lengthAdjust="spacingAndGlyphs" >RGL1</text>
<text x="179.3" y="587.2" font-size="8.3" text-anchor="middle" font-style="italic" textLength="27.5" lengthAdjust="spacingAndGlyphs" >PIK3CD</text>
<text x="121.9" y="478.8" font-size="10" text-anchor="middle" textLength="28.3" lengthAdjust="spacingAndGlyphs" >KU812</text>
<text x="0" y="0" transform="translate(20.9,527.8) rotate(-90)" font-size="9.7" text-anchor="middle" style="stroke-width:0.32px" textLength="64.5" lengthAdjust="spacingAndGlyphs">Relative expression</text>
<rect x="53.8" y="494.6" width="4.1" height="4" fill="#2d4b85"/>
<text x="61" y="498.6" font-size="7.9" textLength="23.8" lengthAdjust="spacingAndGlyphs" >DMSO</text>
<rect x="53.8" y="505.3" width="4.1" height="4" fill="#a9042c"/>
<text x="61" y="509.3" font-size="7.9" textLength="44" lengthAdjust="spacingAndGlyphs" >JQ1 250 nM</text>
<line x1="249" y1="484.5" x2="249" y2="575.5" stroke="#231f20" stroke-width="1.1" />
<line x1="246" y1="575.5" x2="249" y2="575.5" stroke="#231f20" stroke-width="0.9" />
<text x="243.4" y="578.4" font-size="8.3" text-anchor="end" >0</text>
<line x1="246" y1="557.75" x2="249" y2="557.75" stroke="#231f20" stroke-width="0.9" />
<text x="243.4" y="560.65" font-size="8.3" text-anchor="end" >0.5</text>
<line x1="246" y1="540" x2="249" y2="540" stroke="#231f20" stroke-width="0.9" />
<text x="243.4" y="542.9" font-size="8.3" text-anchor="end" >1</text>
<line x1="246" y1="522.25" x2="249" y2="522.25" stroke="#231f20" stroke-width="0.9" />
<text x="243.4" y="525.15" font-size="8.3" text-anchor="end" >1.5</text>
<line x1="246" y1="504.5" x2="249" y2="504.5" stroke="#231f20" stroke-width="0.9" />
<text x="243.4" y="507.4" font-size="8.3" text-anchor="end" >2</text>
<line x1="246" y1="486.75" x2="249" y2="486.75" stroke="#231f20" stroke-width="0.9" />
<text x="243.4" y="489.65" font-size="8.3" text-anchor="end" >2.5</text>
<line x1="248.5" y1="575.5" x2="407.5" y2="575.5" stroke="#231f20" stroke-width="1.1" />
<line x1="287.5" y1="575.5" x2="287.5" y2="578.5" stroke="#231f20" stroke-width="0.9" />
<line x1="327" y1="575.5" x2="327" y2="578.5" stroke="#231f20" stroke-width="0.9" />
<line x1="365.6" y1="575.5" x2="365.6" y2="578.5" stroke="#231f20" stroke-width="0.9" />
<line x1="405" y1="575.5" x2="405" y2="578.5" stroke="#231f20" stroke-width="0.9" />
<rect x="259.3" y="540.2" width="8.7" height="35.3" fill="#2d4b85" stroke="#1f3a72" stroke-width="0.6"/>
<rect x="268" y="573" width="9.5" height="2.5" fill="#a9042c"/>
<line x1="263.65" y1="534.3" x2="263.65" y2="546.3" stroke="#231f20" stroke-width="1" />
<line x1="262.05" y1="534.3" x2="265.25" y2="534.3" stroke="#231f20" stroke-width="1" />
<line x1="262.05" y1="546.3" x2="265.25" y2="546.3" stroke="#231f20" stroke-width="1" />
<circle cx="269.65" cy="569.7" r="0.95" fill="#1a1a1a"/>
<circle cx="272.75" cy="569.7" r="0.95" fill="#1a1a1a"/>
<circle cx="275.85" cy="569.7" r="0.95" fill="#1a1a1a"/>
<rect x="298.3" y="540.2" width="8.7" height="35.3" fill="#2d4b85" stroke="#1f3a72" stroke-width="0.6"/>
<rect x="307" y="536.8" width="9.5" height="38.7" fill="#a9042c"/>
<line x1="302.65" y1="537.8" x2="302.65" y2="543" stroke="#231f20" stroke-width="1" />
<line x1="301.05" y1="537.8" x2="304.25" y2="537.8" stroke="#231f20" stroke-width="1" />
<line x1="301.05" y1="543" x2="304.25" y2="543" stroke="#231f20" stroke-width="1" />
<line x1="311.75" y1="536" x2="311.75" y2="536.8" stroke="#231f20" stroke-width="1" />
<line x1="310.15" y1="536" x2="313.35" y2="536" stroke="#231f20" stroke-width="1" />
<rect x="337" y="540" width="9.3" height="35.5" fill="#2d4b85" stroke="#1f3a72" stroke-width="0.6"/>
<rect x="346.3" y="517.5" width="9.5" height="58" fill="#a9042c"/>
<line x1="341.65" y1="537.5" x2="341.65" y2="543.3" stroke="#231f20" stroke-width="1" />
<line x1="340.05" y1="537.5" x2="343.25" y2="537.5" stroke="#231f20" stroke-width="1" />
<line x1="340.05" y1="543.3" x2="343.25" y2="543.3" stroke="#231f20" stroke-width="1" />
<line x1="351.05" y1="512" x2="351.05" y2="517.5" stroke="#231f20" stroke-width="1" />
<line x1="349.45" y1="512" x2="352.65" y2="512" stroke="#231f20" stroke-width="1" />
<circle cx="349.5" cy="508.7" r="0.95" fill="#1a1a1a"/>
<circle cx="352.6" cy="508.7" r="0.95" fill="#1a1a1a"/>
<rect x="375.8" y="540" width="9.2" height="35.5" fill="#2d4b85" stroke="#1f3a72" stroke-width="0.6"/>
<rect x="385" y="513" width="9.5" height="62.5" fill="#a9042c"/>
<line x1="380.4" y1="538" x2="380.4" y2="542.5" stroke="#231f20" stroke-width="1" />
<line x1="378.8" y1="538" x2="382" y2="538" stroke="#231f20" stroke-width="1" />
<line x1="378.8" y1="542.5" x2="382" y2="542.5" stroke="#231f20" stroke-width="1" />
<line x1="389.75" y1="507" x2="389.75" y2="513" stroke="#231f20" stroke-width="1" />
<line x1="388.15" y1="507" x2="391.35" y2="507" stroke="#231f20" stroke-width="1" />
<circle cx="388.2" cy="503.7" r="0.95" fill="#1a1a1a"/>
<circle cx="391.3" cy="503.7" r="0.95" fill="#1a1a1a"/>
<text x="268.6" y="587.2" font-size="8.3" text-anchor="middle" font-style="italic" textLength="15" lengthAdjust="spacingAndGlyphs" >ERG</text>
<text x="306.3" y="587.2" font-size="8.3" text-anchor="middle" font-style="italic" textLength="22.5" lengthAdjust="spacingAndGlyphs" >SPNS2</text>
<text x="346.1" y="587.2" font-size="8.3" text-anchor="middle" font-style="italic" textLength="18.8" lengthAdjust="spacingAndGlyphs" >RGL1</text>
<text x="385.4" y="587.2" font-size="8.3" text-anchor="middle" font-style="italic" textLength="28.3" lengthAdjust="spacingAndGlyphs" >PIK3CD</text>
<text x="327.9" y="481.8" font-size="10" text-anchor="middle" textLength="16.2" lengthAdjust="spacingAndGlyphs" >P39</text>
<text x="0" y="0" transform="translate(227,528.8) rotate(-90)" font-size="9.7" text-anchor="middle" style="stroke-width:0.32px" textLength="64.5" lengthAdjust="spacingAndGlyphs">Relative expression</text>
<rect x="260.8" y="494.8" width="4.1" height="4" fill="#2d4b85"/>
<text x="268" y="498.8" font-size="7.9" textLength="24" lengthAdjust="spacingAndGlyphs" >DMSO</text>
<rect x="260.8" y="505.4" width="4.1" height="4" fill="#a9042c"/>
<text x="268" y="509.4" font-size="7.9" textLength="44.3" lengthAdjust="spacingAndGlyphs" >JQ1 250 nM</text>
<line x1="40.5" y1="603.8" x2="40.5" y2="669.2" stroke="#231f20" stroke-width="1.1" />
<line x1="37.8" y1="605.3" x2="40.5" y2="605.3" stroke="#231f20" stroke-width="0.9" />
<line x1="37.8" y1="617.56" x2="40.5" y2="617.56" stroke="#231f20" stroke-width="0.9" />
<line x1="37.8" y1="629.82" x2="40.5" y2="629.82" stroke="#231f20" stroke-width="0.9" />
<line x1="37.8" y1="642.08" x2="40.5" y2="642.08" stroke="#231f20" stroke-width="0.9" />
<line x1="37.8" y1="654.34" x2="40.5" y2="654.34" stroke="#231f20" stroke-width="0.9" />
<line x1="37.8" y1="666.6" x2="40.5" y2="666.6" stroke="#231f20" stroke-width="0.9" />
<text x="35.3" y="620.26" font-size="7.6" text-anchor="end" textLength="11" lengthAdjust="spacingAndGlyphs" >0.8</text>
<text x="35.3" y="644.78" font-size="7.6" text-anchor="end" textLength="11" lengthAdjust="spacingAndGlyphs" >0.4</text>
<text x="35.3" y="669.3" font-size="7.6" text-anchor="end" textLength="11" lengthAdjust="spacingAndGlyphs" >0.0</text>
<line x1="40" y1="668.9" x2="205.8" y2="668.9" stroke="#231f20" stroke-width="1.1" />
<line x1="46.9" y1="668.9" x2="46.9" y2="671.5" stroke="#231f20" stroke-width="0.9" />
<text x="46.9" y="682" font-size="7.6" text-anchor="middle" textLength="4.3" lengthAdjust="spacingAndGlyphs" >0</text>
<line x1="73.1" y1="668.9" x2="73.1" y2="671.5" stroke="#231f20" stroke-width="0.9" />
<text x="73.1" y="682" font-size="7.6" text-anchor="middle" textLength="13.5" lengthAdjust="spacingAndGlyphs" >200</text>
<line x1="99.3" y1="668.9" x2="99.3" y2="671.5" stroke="#231f20" stroke-width="0.9" />
<text x="99.3" y="682" font-size="7.6" text-anchor="middle" textLength="13.5" lengthAdjust="spacingAndGlyphs" >400</text>
<line x1="125.5" y1="668.9" x2="125.5" y2="671.5" stroke="#231f20" stroke-width="0.9" />
<text x="125.5" y="682" font-size="7.6" text-anchor="middle" textLength="13.5" lengthAdjust="spacingAndGlyphs" >600</text>
<line x1="151.7" y1="668.9" x2="151.7" y2="671.5" stroke="#231f20" stroke-width="0.9" />
<text x="151.7" y="682" font-size="7.6" text-anchor="middle" textLength="13.5" lengthAdjust="spacingAndGlyphs" >800</text>
<line x1="177.9" y1="668.9" x2="177.9" y2="671.5" stroke="#231f20" stroke-width="0.9" />
<text x="177.9" y="682" font-size="7.6" text-anchor="middle" textLength="18" lengthAdjust="spacingAndGlyphs" >1000</text>
<line x1="204.1" y1="668.9" x2="204.1" y2="671.5" stroke="#231f20" stroke-width="0.9" />
<text x="204.1" y="682" font-size="7.6" text-anchor="middle" textLength="18" lengthAdjust="spacingAndGlyphs" >1200</text>
<text x="0" y="0" transform="translate(19.3,636.6) rotate(-90)" font-size="10.2" text-anchor="middle" style="stroke-width:0.32px" textLength="36" lengthAdjust="spacingAndGlyphs">Probability</text>
<text x="126" y="693.6" font-size="10" text-anchor="middle" textLength="15.8" lengthAdjust="spacingAndGlyphs" >Days</text>
<polyline points="47.1,605.4 49,608.5 49.8,613.1 50.9,620 52.1,626.2 53.6,628.1 54.8,629.6 56.7,631.9 58.6,632.3 60.5,633.8 62.5,635.4 64.8,636.5 67.1,636.9 69.4,639.2 71.25,640.25 76.25,640.6 77.5,642.5 78.75,646.25 80,650 81.25,653.1 83.75,653.75 85,657.5 101.25,657.5 102.5,658.6 144.4,658.6 146.5,662.6 194.5,662.6" fill="none" stroke="#b51a43" stroke-width="1.2" stroke-linejoin="round" />
<polyline points="47.1,605.4 48.2,607.7 50.2,608.8 52.5,610.8 54,612.3 55.5,612.7 57.5,614.2 59.4,615.4 62.5,617.3 64.8,618.5 67.8,619.1 70.2,619.6 72.5,621.9 76.3,623.8 79.4,625.8 82.3,627.8 85.2,630.1 88.1,631.2 91.5,633 95,633.5 101.9,633.5 104.2,635.3 107.7,636.4 110.6,637 121.5,637 128.4,638.1 135.4,638.7 140,639.3 142.7,639.4 143.5,640.1 160.2,640.1 161,640.8 177,640.8 178,642.4 203.3,642.4" fill="none" stroke="#2c4f8e" stroke-width="1.2" stroke-linejoin="round" />
<line x1="53.2" y1="609.3" x2="53.2" y2="613.7" stroke="#2c4f8e" stroke-width="0.9" />
<line x1="60.5" y1="613.87" x2="60.5" y2="618.27" stroke="#2c4f8e" stroke-width="0.9" />
<line x1="74.4" y1="620.65" x2="74.4" y2="625.05" stroke="#2c4f8e" stroke-width="0.9" />
<line x1="83.2" y1="626.31" x2="83.2" y2="630.71" stroke="#2c4f8e" stroke-width="0.9" />
<line x1="84.3" y1="627.19" x2="84.3" y2="631.59" stroke="#2c4f8e" stroke-width="0.9" />
<line x1="85.2" y1="627.9" x2="85.2" y2="632.3" stroke="#2c4f8e" stroke-width="0.9" />
<line x1="88.1" y1="629" x2="88.1" y2="633.4" stroke="#2c4f8e" stroke-width="0.9" />
<line x1="94.8" y1="631.27" x2="94.8" y2="635.67" stroke="#2c4f8e" stroke-width="0.9" />
<line x1="102.5" y1="631.77" x2="102.5" y2="636.17" stroke="#2c4f8e" stroke-width="0.9" />
<line x1="105.9" y1="633.63" x2="105.9" y2="638.03" stroke="#2c4f8e" stroke-width="0.9" />
<line x1="110.6" y1="634.8" x2="110.6" y2="639.2" stroke="#2c4f8e" stroke-width="0.9" />
<line x1="122.7" y1="634.99" x2="122.7" y2="639.39" stroke="#2c4f8e" stroke-width="0.9" />
<line x1="126.2" y1="635.55" x2="126.2" y2="639.95" stroke="#2c4f8e" stroke-width="0.9" />
<line x1="135.4" y1="636.5" x2="135.4" y2="640.9" stroke="#2c4f8e" stroke-width="0.9" />
<line x1="141.1" y1="637.14" x2="141.1" y2="641.54" stroke="#2c4f8e" stroke-width="0.9" />
<line x1="150.8" y1="637.9" x2="150.8" y2="642.3" stroke="#2c4f8e" stroke-width="0.9" />
<line x1="154.5" y1="637.9" x2="154.5" y2="642.3" stroke="#2c4f8e" stroke-width="0.9" />
<line x1="156.4" y1="637.9" x2="156.4" y2="642.3" stroke="#2c4f8e" stroke-width="0.9" />
<line x1="158.2" y1="637.9" x2="158.2" y2="642.3" stroke="#2c4f8e" stroke-width="0.9" />
<line x1="159.5" y1="637.9" x2="159.5" y2="642.3" stroke="#2c4f8e" stroke-width="0.9" />
<line x1="163.6" y1="638.6" x2="163.6" y2="643" stroke="#2c4f8e" stroke-width="0.9" />
<line x1="167.6" y1="638.6" x2="167.6" y2="643" stroke="#2c4f8e" stroke-width="0.9" />
<line x1="191.1" y1="640.2" x2="191.1" y2="644.6" stroke="#2c4f8e" stroke-width="0.9" />
<line x1="201.2" y1="640.2" x2="201.2" y2="644.6" stroke="#2c4f8e" stroke-width="0.9" />
<line x1="55.5" y1="628.25" x2="55.5" y2="632.65" stroke="#b51a43" stroke-width="0.9" />
<line x1="166.9" y1="660.4" x2="166.9" y2="664.8" stroke="#b51a43" stroke-width="0.9" />
<line x1="192.5" y1="660.4" x2="192.5" y2="664.8" stroke="#b51a43" stroke-width="0.9" />
<text x="41.2" y="653.8" font-size="6.7" textLength="37.6" lengthAdjust="spacingAndGlyphs" style="stroke-width:0.1px">p = 0.000004</text>
<text x="41.2" y="660.5" font-size="6.7" textLength="28.4" lengthAdjust="spacingAndGlyphs" style="stroke-width:0.1px">HR = 7.30</text>
<text x="41.2" y="667.1" font-size="6.7" textLength="57.5" lengthAdjust="spacingAndGlyphs" style="stroke-width:0.1px">95% CI: 3.12 - 17.06</text>
<line x1="138" y1="610" x2="142.6" y2="610" stroke="#b51a43" stroke-width="1.2" />
<line x1="138" y1="621.3" x2="142.6" y2="621.3" stroke="#2c4f8e" stroke-width="1.2" />
<text x="145.8" y="612.4" font-size="6.4" textLength="48" lengthAdjust="spacingAndGlyphs" style="stroke-width:0.12px">ERG High n = 35</text>
<text x="145.8" y="623.7" font-size="6.4" textLength="49.7" lengthAdjust="spacingAndGlyphs" style="stroke-width:0.12px">ERG Low n = 128</text>
<line x1="248.8" y1="603.8" x2="248.8" y2="669.2" stroke="#231f20" stroke-width="1.1" />
<line x1="246.1" y1="605.3" x2="248.8" y2="605.3" stroke="#231f20" stroke-width="0.9" />
<line x1="246.1" y1="617.56" x2="248.8" y2="617.56" stroke="#231f20" stroke-width="0.9" />
<line x1="246.1" y1="629.82" x2="248.8" y2="629.82" stroke="#231f20" stroke-width="0.9" />
<line x1="246.1" y1="642.08" x2="248.8" y2="642.08" stroke="#231f20" stroke-width="0.9" />
<line x1="246.1" y1="654.34" x2="248.8" y2="654.34" stroke="#231f20" stroke-width="0.9" />
<line x1="246.1" y1="666.6" x2="248.8" y2="666.6" stroke="#231f20" stroke-width="0.9" />
<text x="243.6" y="620.26" font-size="7.6" text-anchor="end" textLength="11" lengthAdjust="spacingAndGlyphs" >0.8</text>
<text x="243.6" y="644.78" font-size="7.6" text-anchor="end" textLength="11" lengthAdjust="spacingAndGlyphs" >0.4</text>
<text x="243.6" y="669.3" font-size="7.6" text-anchor="end" textLength="11" lengthAdjust="spacingAndGlyphs" >0.0</text>
<line x1="248.3" y1="668.9" x2="415.8" y2="668.9" stroke="#231f20" stroke-width="1.1" />
<line x1="254.6" y1="668.9" x2="254.6" y2="671.5" stroke="#231f20" stroke-width="0.9" />
<text x="254.6" y="682" font-size="7.6" text-anchor="middle" textLength="4.3" lengthAdjust="spacingAndGlyphs" >0</text>
<line x1="280.8" y1="668.9" x2="280.8" y2="671.5" stroke="#231f20" stroke-width="0.9" />
<text x="280.8" y="682" font-size="7.6" text-anchor="middle" textLength="13.5" lengthAdjust="spacingAndGlyphs" >200</text>
<line x1="307" y1="668.9" x2="307" y2="671.5" stroke="#231f20" stroke-width="0.9" />
<text x="307" y="682" font-size="7.6" text-anchor="middle" textLength="13.5" lengthAdjust="spacingAndGlyphs" >400</text>
<line x1="333.2" y1="668.9" x2="333.2" y2="671.5" stroke="#231f20" stroke-width="0.9" />
<text x="333.2" y="682" font-size="7.6" text-anchor="middle" textLength="13.5" lengthAdjust="spacingAndGlyphs" >600</text>
<line x1="359.4" y1="668.9" x2="359.4" y2="671.5" stroke="#231f20" stroke-width="0.9" />
<text x="359.4" y="682" font-size="7.6" text-anchor="middle" textLength="13.5" lengthAdjust="spacingAndGlyphs" >800</text>
<line x1="385.6" y1="668.9" x2="385.6" y2="671.5" stroke="#231f20" stroke-width="0.9" />
<text x="385.6" y="682" font-size="7.6" text-anchor="middle" textLength="18" lengthAdjust="spacingAndGlyphs" >1000</text>
<line x1="411.8" y1="668.9" x2="411.8" y2="671.5" stroke="#231f20" stroke-width="0.9" />
<text x="411.8" y="682" font-size="7.6" text-anchor="middle" textLength="18" lengthAdjust="spacingAndGlyphs" >1200</text>
<text x="0" y="0" transform="translate(227.5,636.6) rotate(-90)" font-size="10.2" text-anchor="middle" style="stroke-width:0.32px" textLength="36" lengthAdjust="spacingAndGlyphs">Probability</text>
<text x="333.9" y="695.6" font-size="10" text-anchor="middle" textLength="15.5" lengthAdjust="spacingAndGlyphs" >Days</text>
<polyline points="254.8,605.8 256.7,608.7 258.2,611.5 259.6,616.3 261.1,618.3 263,620.2 264.4,621.6 266.8,622.1 269.2,623.1 271.2,624.5 274,625.5 276.9,626.4 278.8,628.4 280.8,630.8 283.7,633.2 285.6,636.5 287.5,641.3 289.4,644.7 292.3,646.2 296.2,647.6 300.4,649.7 308.5,650.3 313.2,651.6 354.2,651.6 356.2,653.1 369.2,653.1 370,654.2 386,654.2 387,655.6 411.9,655.6" fill="none" stroke="#b51a43" stroke-width="1.2" stroke-linejoin="round" />
<polyline points="254.8,605.8 257.2,608.2 259.6,611.5 261.5,613.9 264.4,614.9 266.8,616.3 269.2,617.8 272.1,619.7 275,621.2 278.8,622.6 282.2,622.9 285.6,623.3 288.5,624 291.3,625.2 294.2,627.9 297.1,629.3 299,629.8 303.1,630.5 308.5,630.9 312.5,632.5 318.6,634.1 326,634.2 330,635.2 339.4,635.9 343.5,637.2 352.9,639.2 365,639.3 398.6,639.5 399.5,641 411.9,641" fill="none" stroke="#2c4f8e" stroke-width="1.2" stroke-linejoin="round" />
<line x1="258.5" y1="607.79" x2="258.5" y2="612.19" stroke="#2c4f8e" stroke-width="0.9" />
<line x1="262.5" y1="612.04" x2="262.5" y2="616.44" stroke="#2c4f8e" stroke-width="0.9" />
<line x1="269.2" y1="615.6" x2="269.2" y2="620" stroke="#2c4f8e" stroke-width="0.9" />
<line x1="282.2" y1="620.7" x2="282.2" y2="625.1" stroke="#2c4f8e" stroke-width="0.9" />
<line x1="291.3" y1="623" x2="291.3" y2="627.4" stroke="#2c4f8e" stroke-width="0.9" />
<line x1="303.1" y1="628.3" x2="303.1" y2="632.7" stroke="#2c4f8e" stroke-width="0.9" />
<line x1="314.5" y1="630.82" x2="314.5" y2="635.22" stroke="#2c4f8e" stroke-width="0.9" />
<line x1="318.6" y1="631.9" x2="318.6" y2="636.3" stroke="#2c4f8e" stroke-width="0.9" />
<line x1="330.7" y1="633.05" x2="330.7" y2="637.45" stroke="#2c4f8e" stroke-width="0.9" />
<line x1="335" y1="633.37" x2="335" y2="637.77" stroke="#2c4f8e" stroke-width="0.9" />
<line x1="344.1" y1="635.13" x2="344.1" y2="639.53" stroke="#2c4f8e" stroke-width="0.9" />
<line x1="349.5" y1="636.28" x2="349.5" y2="640.68" stroke="#2c4f8e" stroke-width="0.9" />
<line x1="359.3" y1="637.05" x2="359.3" y2="641.45" stroke="#2c4f8e" stroke-width="0.9" />
<line x1="365.5" y1="637.1" x2="365.5" y2="641.5" stroke="#2c4f8e" stroke-width="0.9" />
<line x1="366.8" y1="637.11" x2="366.8" y2="641.51" stroke="#2c4f8e" stroke-width="0.9" />
<line x1="372.1" y1="637.14" x2="372.1" y2="641.54" stroke="#2c4f8e" stroke-width="0.9" />
<line x1="375.8" y1="637.16" x2="375.8" y2="641.56" stroke="#2c4f8e" stroke-width="0.9" />
<line x1="399.2" y1="638.3" x2="399.2" y2="642.7" stroke="#2c4f8e" stroke-width="0.9" />
<line x1="400.6" y1="638.8" x2="400.6" y2="643.2" stroke="#2c4f8e" stroke-width="0.9" />
<line x1="409.6" y1="638.8" x2="409.6" y2="643.2" stroke="#2c4f8e" stroke-width="0.9" />
<line x1="259.5" y1="613.76" x2="259.5" y2="618.16" stroke="#b51a43" stroke-width="0.9" />
<line x1="261" y1="615.97" x2="261" y2="620.37" stroke="#b51a43" stroke-width="0.9" />
<line x1="262.5" y1="617.5" x2="262.5" y2="621.9" stroke="#b51a43" stroke-width="0.9" />
<line x1="268" y1="620.4" x2="268" y2="624.8" stroke="#b51a43" stroke-width="0.9" />
<line x1="271.5" y1="622.41" x2="271.5" y2="626.81" stroke="#b51a43" stroke-width="0.9" />
<line x1="291.5" y1="643.59" x2="291.5" y2="647.99" stroke="#b51a43" stroke-width="0.9" />
<line x1="294.5" y1="644.79" x2="294.5" y2="649.19" stroke="#b51a43" stroke-width="0.9" />
<line x1="296.3" y1="645.45" x2="296.3" y2="649.85" stroke="#b51a43" stroke-width="0.9" />
<line x1="311.2" y1="648.85" x2="311.2" y2="653.25" stroke="#b51a43" stroke-width="0.9" />
<line x1="327" y1="649.4" x2="327" y2="653.8" stroke="#b51a43" stroke-width="0.9" />
<line x1="363.2" y1="650.9" x2="363.2" y2="655.3" stroke="#b51a43" stroke-width="0.9" />
<line x1="409.8" y1="653.4" x2="409.8" y2="657.8" stroke="#b51a43" stroke-width="0.9" />
<text x="251.7" y="652.9" font-size="6.7" textLength="35" lengthAdjust="spacingAndGlyphs" style="stroke-width:0.1px">p = 0.00266</text>
<text x="251.7" y="659.6" font-size="6.7" textLength="28.4" lengthAdjust="spacingAndGlyphs" style="stroke-width:0.1px">HR = 1.86</text>
<text x="251.7" y="666.3" font-size="6.7" textLength="55.5" lengthAdjust="spacingAndGlyphs" style="stroke-width:0.1px">95% CI: 1.24 - 2.79</text>
<line x1="345" y1="610" x2="351" y2="610" stroke="#b51a43" stroke-width="1.2" />
<line x1="345" y1="621.2" x2="351" y2="621.2" stroke="#2c4f8e" stroke-width="1.2" />
<text x="354" y="612.4" font-size="6.4" textLength="54.8" lengthAdjust="spacingAndGlyphs" style="stroke-width:0.12px">SPNS2 High n = 71</text>
<text x="354" y="623.7" font-size="6.4" textLength="53" lengthAdjust="spacingAndGlyphs" style="stroke-width:0.12px">SPNS2 Low n = 92</text>
</svg></div></body></html>
